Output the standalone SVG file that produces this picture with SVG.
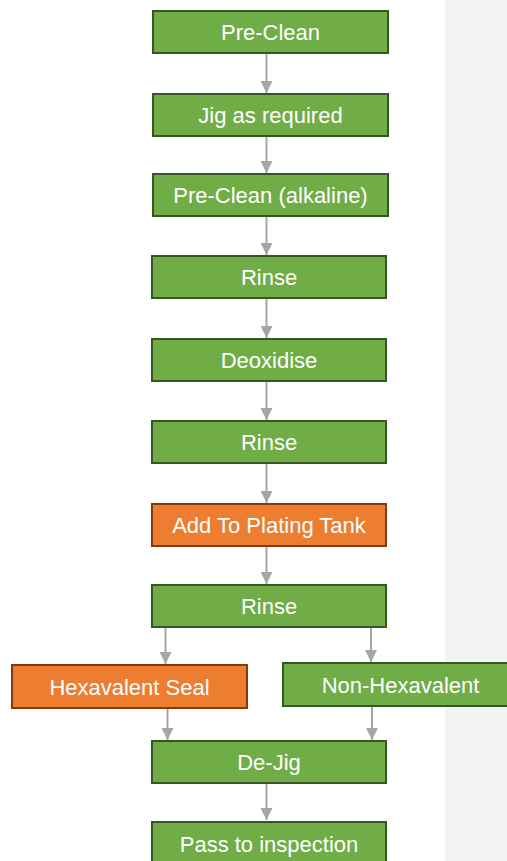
<svg xmlns="http://www.w3.org/2000/svg" width="507" height="861" viewBox="0 0 507 861">
<defs>
<style>
.g{fill:#70ad47;stroke:#375623;stroke-width:2}
.o{fill:#ed7d31;stroke:#843c0c;stroke-width:2}
text{font-family:"Liberation Sans",Arial,sans-serif;font-size:22px;fill:#fff;text-anchor:middle}
.c{stroke:#a6a6a6;stroke-width:2;fill:none;marker-end:url(#ah)}
</style>
<marker id="ah" markerWidth="12" markerHeight="12" refX="10" refY="5" orient="auto" markerUnits="userSpaceOnUse" viewBox="0 0 10 10">
<path d="M0,0 L10,5 L0,10 Z" fill="#a6a6a6"/>
</marker>
</defs>
<rect x="0" y="0" width="507" height="861" fill="#fff"/>
<rect x="445" y="0" width="62" height="861" fill="#f2f2f2"/>
<g id="connectors">
<line class="c" x1="266.5" y1="54" x2="266.5" y2="93"/>
<line class="c" x1="266.5" y1="137" x2="266.5" y2="173"/>
<line class="c" x1="266.5" y1="217" x2="266.5" y2="255"/>
<line class="c" x1="266.5" y1="299" x2="266.5" y2="338"/>
<line class="c" x1="266.5" y1="382" x2="266.5" y2="420"/>
<line class="c" x1="266.5" y1="464" x2="266.5" y2="503"/>
<line class="c" x1="266.5" y1="547" x2="266.5" y2="584"/>
<line class="c" x1="165.5" y1="628" x2="165.5" y2="664"/>
<line class="c" x1="371" y1="628" x2="371" y2="662"/>
<line class="c" x1="167.5" y1="708" x2="167.5" y2="740"/>
<line class="c" x1="372" y1="707" x2="372" y2="740"/>
<line class="c" x1="266.5" y1="784" x2="266.5" y2="820"/>
</g>
<g id="n1"><rect class="g" x="153" y="11" width="235" height="42"/><text x="270.5" y="40">Pre-Clean</text></g>
<g id="n2"><rect class="g" x="153" y="94" width="235" height="42"/><text x="270.5" y="123">Jig as required</text></g>
<g id="n3"><rect class="g" x="153" y="174" width="235" height="42"/><text x="270.5" y="203">Pre-Clean (alkaline)</text></g>
<g id="n4"><rect class="g" x="152" y="256" width="234" height="42"/><text x="269" y="285">Rinse</text></g>
<g id="n5"><rect class="g" x="152" y="339" width="234" height="42"/><text x="269" y="368">Deoxidise</text></g>
<g id="n6"><rect class="g" x="152" y="421" width="234" height="42"/><text x="269" y="450">Rinse</text></g>
<g id="n7"><rect class="o" x="152" y="504" width="234" height="42"/><text x="269" y="533">Add To Plating Tank</text></g>
<g id="n8"><rect class="g" x="152" y="585" width="234" height="42"/><text x="269" y="614">Rinse</text></g>
<g id="n9"><rect class="o" x="12" y="665" width="235" height="43"/><text x="129.5" y="695">Hexavalent Seal</text></g>
<g id="n10"><rect class="g" x="283" y="663" width="235" height="43"/><text x="400.5" y="693">Non-Hexavalent</text></g>
<g id="n11"><rect class="g" x="152" y="741" width="234" height="42"/><text x="269" y="770">De-Jig</text></g>
<g id="n12"><rect class="g" x="152" y="822" width="234" height="50"/><text x="269" y="851.5">Pass to inspection</text></g>
</svg>
